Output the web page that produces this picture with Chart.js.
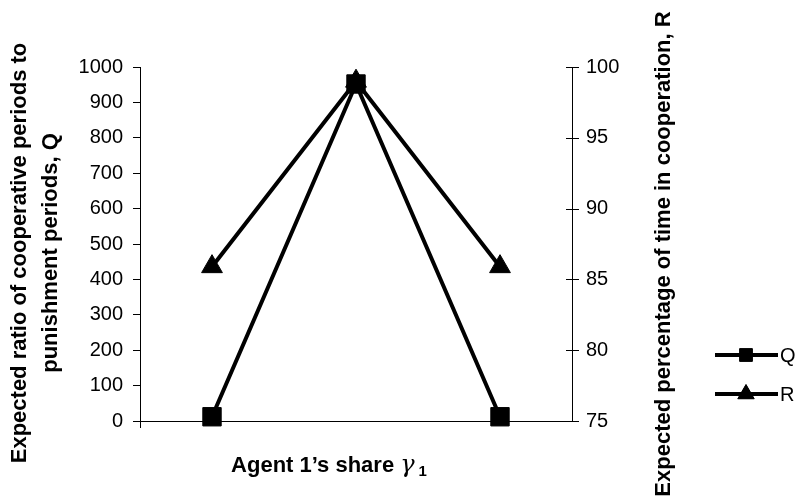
<!DOCTYPE html>
<html>
<head>
<meta charset="utf-8">
<script src="https://cdn.jsdelivr.net/npm/chart.js@4/dist/chart.umd.min.js"></script>
<style>
  html, body { margin: 0; padding: 0; background: #fff; }
  canvas { display: block; }
</style>
</head>
<body>
<canvas id="canvas" width="802" height="503"></canvas>
<script>
// three values of agent 1's share (no tick labels in the original)
const categories = ['1', '2', '3'];
const qValues = [12, 952, 12];
const rValues = [85.9, 99, 85.9];
const qAxis = { min: 0, max: 1000, step: 100 };
const rAxis = { min: 75, max: 100, step: 5 };

const FONT = '"Liberation Sans", Arial, sans-serif';

// titles + legend drawn by hand (right title reads bottom-to-top, x title has γ₁)
const annotate = {
    id: 'annotate',
    afterDraw(chart) {
        const ctx = chart.ctx;
        ctx.save();
        ctx.fillStyle = '#000';
        ctx.strokeStyle = '#000';

        // right axis ticks cross the axis line
        const y2 = chart.scales.y2;
        ctx.lineWidth = 1;
        y2.ticks.forEach(t => {
            const py = Math.round(y2.getPixelForValue(t.value)) + 0.5;
            ctx.beginPath();
            ctx.moveTo(566, py);
            ctx.lineTo(579, py);
            ctx.stroke();
        });

        ctx.textAlign = 'center';
        ctx.textBaseline = 'alphabetic';
        ctx.font = 'bold 22px ' + FONT;

        let lines = ['Expected ratio of cooperative periods to', 'punishment periods, Q'];
        [26, 57].forEach((x, i) => {
            ctx.save();
            ctx.translate(x, 253);
            ctx.rotate(-Math.PI / 2);
            ctx.fillText(lines[i], 0, 0);
            ctx.restore();
        });

        ctx.save();
        ctx.translate(670, 254);
        ctx.rotate(-Math.PI / 2);
        ctx.fillText('Expected percentage of time in cooperation, R', 0, 0);
        ctx.restore();

        // x title
        let part1 = 'Agent 1\u2019s share ';
        ctx.font = 'bold 22px ' + FONT;
        let w1 = ctx.measureText(part1).width;
        ctx.font = 'italic 24px "DejaVu Serif", serif';
        let wg = ctx.measureText('\u03b3').width;
        ctx.font = 'bold 15px ' + FONT;
        let ws = ctx.measureText('1').width;
        let total = w1 + wg + 4 + ws;
        let x = 329 - total / 2;
        ctx.textAlign = 'left';
        ctx.font = 'bold 22px ' + FONT;
        ctx.fillText(part1, x, 472);
        ctx.font = 'italic 24px "DejaVu Serif", serif';
        ctx.fillText('\u03b3', x + w1, 472);
        ctx.font = 'bold 15px ' + FONT;
        ctx.fillText('1', x + w1 + wg + 4, 476);

        // legend
        const items = [
            { label: 'Q', y: 355, ds: chart.data.datasets[0], r: 9 },
            { label: 'R', y: 394, ds: chart.data.datasets[1], r: 9.5 }
        ];
        items.forEach(it => {
            ctx.lineWidth = 4;
            ctx.beginPath();
            ctx.moveTo(715, it.y);
            ctx.lineTo(778, it.y);
            ctx.stroke();
            ctx.lineWidth = 1;
            Chart.helpers.drawPoint(ctx, {
                pointStyle: it.ds.pointStyle, radius: it.r, borderWidth: 1
            }, 746, it.y);
            ctx.fill();
            ctx.font = '20px ' + FONT;
            ctx.textBaseline = 'middle';
            ctx.fillText(it.label, 780, it.y + 1);
        });
        ctx.restore();
    }
};

new Chart(document.getElementById('canvas').getContext('2d'), {
    type: 'line',
    data: {
        labels: categories,
        datasets: [{
            label: 'Q',
            data: qValues,
            yAxisID: 'y',
            borderColor: '#000',
            backgroundColor: '#000',
            borderWidth: 4,
            pointStyle: 'rect',
            pointRadius: 13,
            pointHoverRadius: 13,
            pointBorderWidth: 1,
            pointBackgroundColor: '#000',
            pointBorderColor: '#000',
            clip: false
        }, {
            label: 'R',
            data: rValues,
            yAxisID: 'y2',
            borderColor: '#000',
            backgroundColor: '#000',
            borderWidth: 4,
            pointStyle: 'triangle',
            pointRadius: 12,
            pointHoverRadius: 12,
            pointBorderWidth: 1,
            pointBackgroundColor: '#000',
            pointBorderColor: '#000',
            clip: false
        }]
    },
    options: {
        responsive: false,
        animation: false,
        devicePixelRatio: 1,
        layout: { padding: { top: 67, left: 0, right: 0, bottom: 0 } },
        plugins: { legend: { display: false }, tooltip: { enabled: false } },
        scales: {
            x: {
                offset: true,
                grid: {
                    offset: true,
                    drawOnChartArea: false,
                    tickLength: 7,
                    color: c => c.index === 0 ? '#000' : 'rgba(0,0,0,0)'
                },
                border: { color: '#000', width: 1 },
                ticks: { display: false },
                afterFit: s => { s.height = 82; }
            },
            y: {
                position: 'left',
                min: qAxis.min,
                max: qAxis.max,
                ticks: {
                    stepSize: qAxis.step, color: '#000', padding: 10,
                    font: { family: FONT, size: 20 },
                    callback: v => String(v)
                },
                grid: { drawOnChartArea: false, tickLength: 7, color: '#000' },
                border: { color: '#000', width: 1 },
                afterFit: s => { s.width = 140; }
            },
            y2: {
                position: 'right',
                min: rAxis.min,
                max: rAxis.max,
                ticks: {
                    stepSize: rAxis.step, color: '#000', padding: 14,
                    font: { family: FONT, size: 20 },
                    callback: v => String(v)
                },
                grid: { drawOnChartArea: false, drawTicks: false },
                border: { color: '#000', width: 1 },
                afterFit: s => { s.width = 230; }
            }
        }
    },
    plugins: [annotate]
});
</script>
</body>
</html>
